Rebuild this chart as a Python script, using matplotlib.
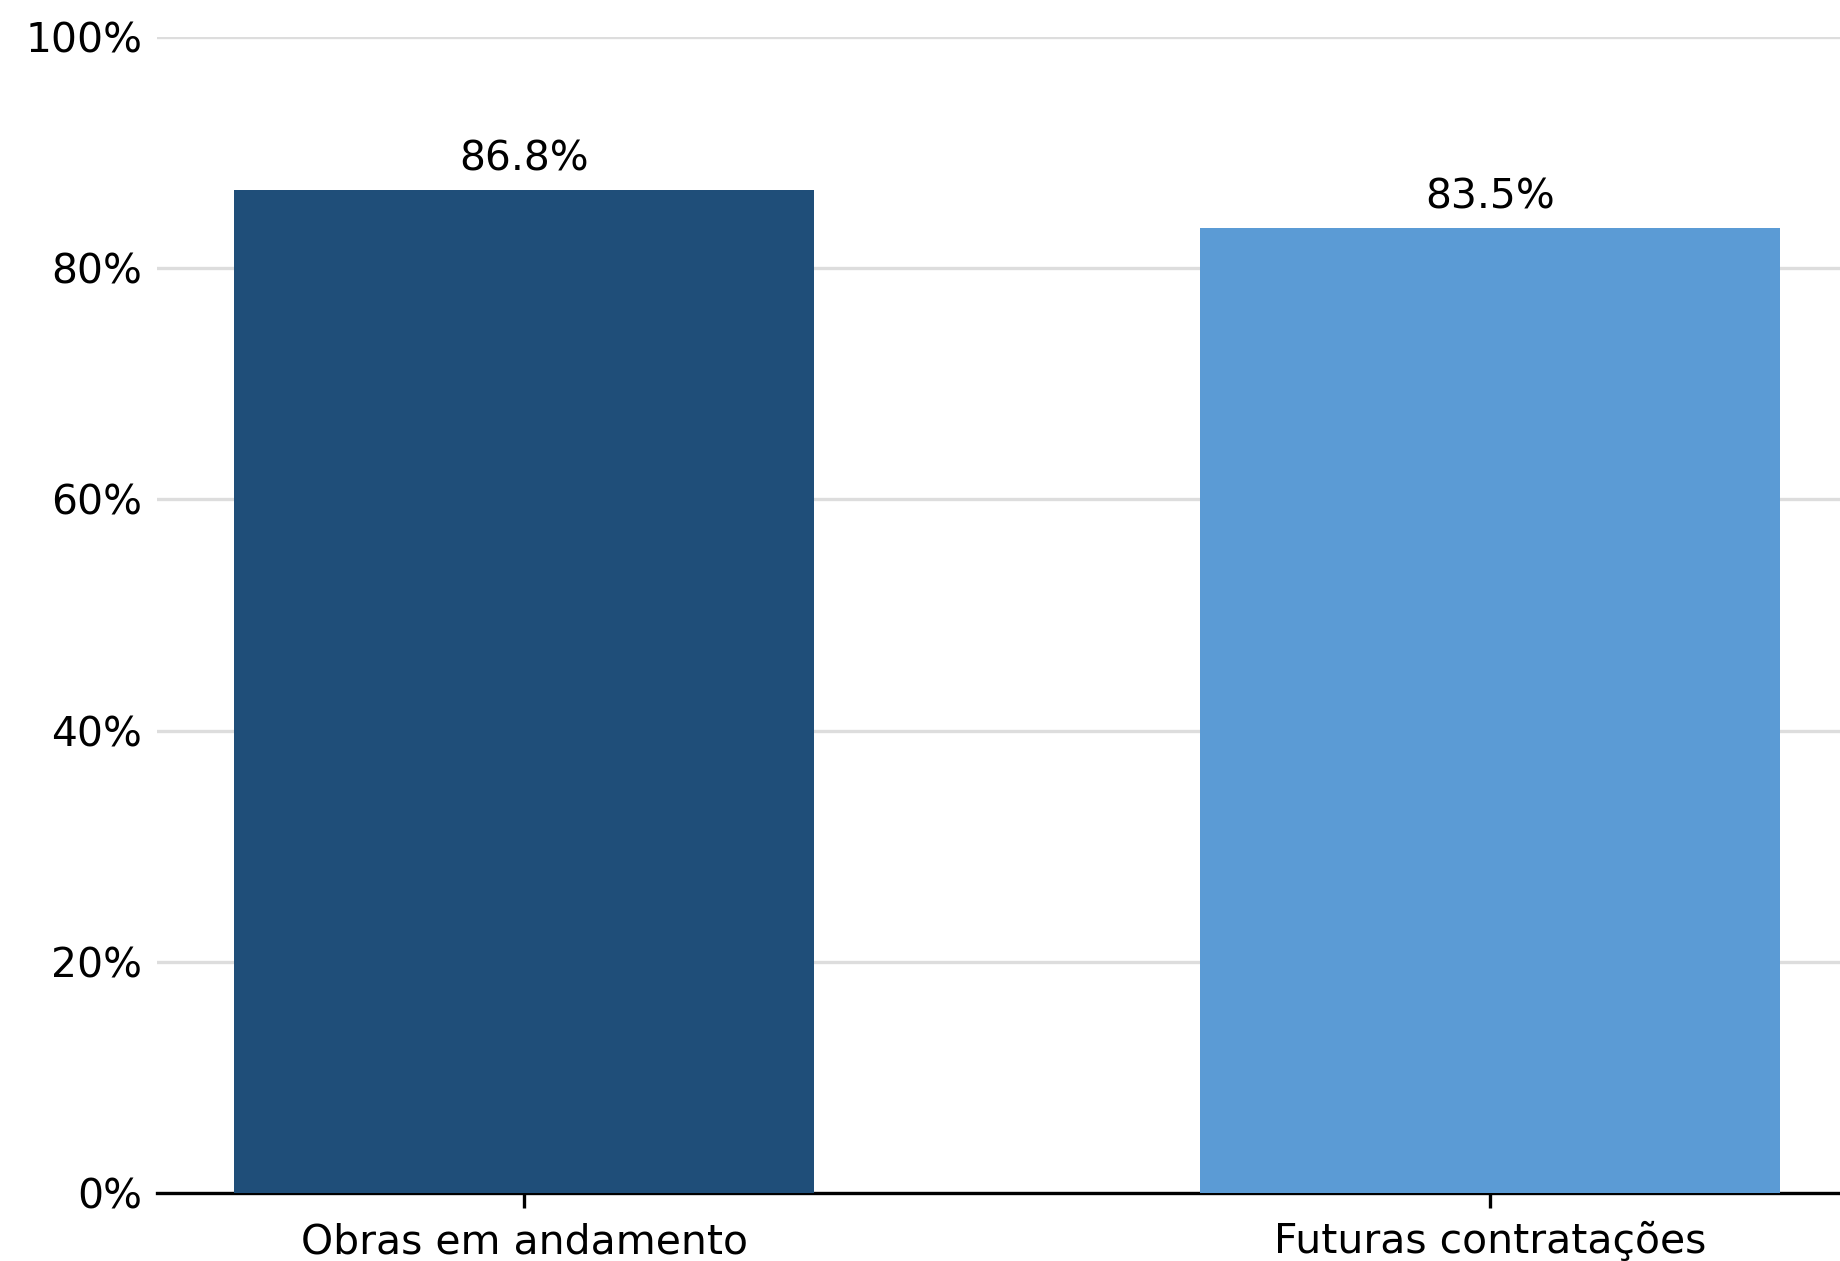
import matplotlib.pyplot as plt
from matplotlib.ticker import PercentFormatter
import numpy as np

categories = ["Obras em andamento", "Futuras contratações"]
values = [0.868, 0.835]
colors = ["#1F4E79", "#5B9BD5"]
labels = ["86.8%", "83.5%"]

fig = plt.figure(figsize=(1840 / 300, 1261 / 300), dpi=300)
# axes runs off the right edge like the reference crop
ax = fig.add_axes([157 / 1840, 68 / 1261, 1700 / 1840, 1156 / 1261])

x = np.arange(len(categories))
bars = ax.bar(x, values, width=0.6, color=colors, zorder=3)
ax.bar_label(bars, labels=labels, padding=2.5, fontsize=9.8)

ax.set_xticks(x)
ax.set_xticklabels(categories, fontsize=9.8)
ax.set_ylim(0, 1)
ax.set_yticks(np.arange(0, 1.01, 0.2))
ax.yaxis.set_major_formatter(PercentFormatter(1, decimals=0))
ax.tick_params(axis="y", length=0, labelsize=9.8)
ax.grid(axis="y", color="#dddddd", linewidth=0.8, zorder=0)

for side in ["top", "right", "left"]:
    ax.spines[side].set_visible(False)
ax.spines["bottom"].set_linewidth(0.8)

fig.savefig("out.png", dpi=300)
